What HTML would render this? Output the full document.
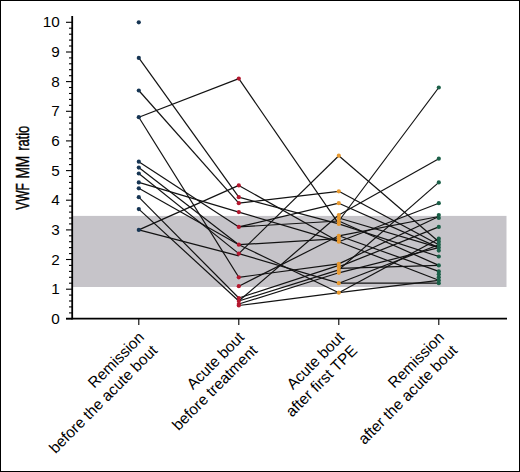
<!DOCTYPE html>
<html><head><meta charset="utf-8"><style>
html,body{margin:0;padding:0;background:#fff;}
body{width:520px;height:472px;overflow:hidden;}
svg{display:block;font-family:"Liberation Sans",sans-serif;}
</style></head><body>
<svg width="520" height="472" viewBox="0 0 520 472">
<rect x="0.5" y="0.5" width="519" height="471" fill="#fff" stroke="#000" stroke-width="1"/>
<rect x="73" y="215.9" width="433.5" height="71.1" fill="#c6c4c9"/>
<g stroke="#000" stroke-width="1.1"><line x1="66" y1="318.8" x2="72" y2="318.8"/><line x1="69" y1="312.9" x2="72" y2="312.9"/><line x1="69" y1="306.9" x2="72" y2="306.9"/><line x1="69" y1="301.0" x2="72" y2="301.0"/><line x1="69" y1="295.1" x2="72" y2="295.1"/><line x1="66" y1="289.2" x2="72" y2="289.2"/><line x1="69" y1="283.2" x2="72" y2="283.2"/><line x1="69" y1="277.3" x2="72" y2="277.3"/><line x1="69" y1="271.4" x2="72" y2="271.4"/><line x1="69" y1="265.4" x2="72" y2="265.4"/><line x1="66" y1="259.5" x2="72" y2="259.5"/><line x1="69" y1="253.6" x2="72" y2="253.6"/><line x1="69" y1="247.6" x2="72" y2="247.6"/><line x1="69" y1="241.7" x2="72" y2="241.7"/><line x1="69" y1="235.8" x2="72" y2="235.8"/><line x1="66" y1="229.9" x2="72" y2="229.9"/><line x1="69" y1="223.9" x2="72" y2="223.9"/><line x1="69" y1="218.0" x2="72" y2="218.0"/><line x1="69" y1="212.1" x2="72" y2="212.1"/><line x1="69" y1="206.1" x2="72" y2="206.1"/><line x1="66" y1="200.2" x2="72" y2="200.2"/><line x1="69" y1="194.3" x2="72" y2="194.3"/><line x1="69" y1="188.3" x2="72" y2="188.3"/><line x1="69" y1="182.4" x2="72" y2="182.4"/><line x1="69" y1="176.5" x2="72" y2="176.5"/><line x1="66" y1="170.6" x2="72" y2="170.6"/><line x1="69" y1="164.6" x2="72" y2="164.6"/><line x1="69" y1="158.7" x2="72" y2="158.7"/><line x1="69" y1="152.8" x2="72" y2="152.8"/><line x1="69" y1="146.8" x2="72" y2="146.8"/><line x1="66" y1="140.9" x2="72" y2="140.9"/><line x1="69" y1="135.0" x2="72" y2="135.0"/><line x1="69" y1="129.0" x2="72" y2="129.0"/><line x1="69" y1="123.1" x2="72" y2="123.1"/><line x1="69" y1="117.2" x2="72" y2="117.2"/><line x1="66" y1="111.3" x2="72" y2="111.3"/><line x1="69" y1="105.3" x2="72" y2="105.3"/><line x1="69" y1="99.4" x2="72" y2="99.4"/><line x1="69" y1="93.5" x2="72" y2="93.5"/><line x1="69" y1="87.5" x2="72" y2="87.5"/><line x1="66" y1="81.6" x2="72" y2="81.6"/><line x1="69" y1="75.7" x2="72" y2="75.7"/><line x1="69" y1="69.7" x2="72" y2="69.7"/><line x1="69" y1="63.8" x2="72" y2="63.8"/><line x1="69" y1="57.9" x2="72" y2="57.9"/><line x1="66" y1="52.0" x2="72" y2="52.0"/><line x1="69" y1="46.0" x2="72" y2="46.0"/><line x1="69" y1="40.1" x2="72" y2="40.1"/><line x1="69" y1="34.2" x2="72" y2="34.2"/><line x1="69" y1="28.2" x2="72" y2="28.2"/><line x1="66" y1="22.3" x2="72" y2="22.3"/><line x1="138.8" y1="319" x2="138.8" y2="325"/><line x1="238.8" y1="319" x2="238.8" y2="325"/><line x1="338.8" y1="319" x2="338.8" y2="325"/><line x1="438.8" y1="319" x2="438.8" y2="325"/></g>
<line x1="72.2" y1="16" x2="72.2" y2="319.5" stroke="#000" stroke-width="1.8"/>
<line x1="66" y1="318.6" x2="507" y2="318.6" stroke="#000" stroke-width="1.8"/>
<g font-size="15.3" fill="#000"><text x="59.7" y="323.9" text-anchor="end">0</text><text x="59.7" y="294.3" text-anchor="end">1</text><text x="59.7" y="264.6" text-anchor="end">2</text><text x="59.7" y="235.0" text-anchor="end">3</text><text x="59.7" y="205.3" text-anchor="end">4</text><text x="59.7" y="175.7" text-anchor="end">5</text><text x="59.7" y="146.0" text-anchor="end">6</text><text x="59.7" y="116.4" text-anchor="end">7</text><text x="59.7" y="86.7" text-anchor="end">8</text><text x="59.7" y="57.1" text-anchor="end">9</text><text x="59.7" y="27.4" text-anchor="end">10</text></g>
<g stroke="#121212" stroke-width="1.2" fill="none"><line x1="138.8" y1="57.9" x2="238.8" y2="197.2"/><line x1="138.8" y1="90.5" x2="238.8" y2="203.2"/><line x1="138.8" y1="117.2" x2="238.8" y2="78.6"/><line x1="138.8" y1="117.2" x2="238.8" y2="277.3"/><line x1="138.8" y1="161.7" x2="238.8" y2="226.9"/><line x1="138.8" y1="167.6" x2="238.8" y2="244.7"/><line x1="138.8" y1="173.5" x2="238.8" y2="253.6"/><line x1="138.8" y1="182.4" x2="238.8" y2="212.1"/><line x1="138.8" y1="188.3" x2="238.8" y2="244.7"/><line x1="138.8" y1="197.2" x2="238.8" y2="298.0"/><line x1="138.8" y1="209.1" x2="238.8" y2="301.0"/><line x1="138.8" y1="229.9" x2="238.8" y2="185.4"/><line x1="138.8" y1="229.9" x2="238.8" y2="255.9"/><line x1="238.8" y1="78.6" x2="338.8" y2="223.9"/><line x1="238.8" y1="185.4" x2="338.8" y2="241.7"/><line x1="238.8" y1="197.2" x2="338.8" y2="223.9"/><line x1="238.8" y1="203.2" x2="338.8" y2="191.3"/><line x1="238.8" y1="212.1" x2="338.8" y2="241.7"/><line x1="238.8" y1="226.9" x2="338.8" y2="203.2"/><line x1="238.8" y1="226.9" x2="338.8" y2="221.0"/><line x1="238.8" y1="244.7" x2="338.8" y2="238.7"/><line x1="238.8" y1="244.7" x2="338.8" y2="292.7"/><line x1="238.8" y1="253.6" x2="338.8" y2="155.7"/><line x1="238.8" y1="253.6" x2="338.8" y2="283.2"/><line x1="238.8" y1="277.3" x2="338.8" y2="263.9"/><line x1="238.8" y1="286.2" x2="338.8" y2="235.8"/><line x1="238.8" y1="301.0" x2="338.8" y2="215.0"/><line x1="238.8" y1="298.0" x2="338.8" y2="265.4"/><line x1="238.8" y1="301.0" x2="338.8" y2="269.9"/><line x1="238.8" y1="304.0" x2="338.8" y2="272.8"/><line x1="238.8" y1="305.5" x2="338.8" y2="292.7"/><line x1="338.8" y1="221.0" x2="438.8" y2="87.5"/><line x1="338.8" y1="215.0" x2="438.8" y2="158.7"/><line x1="338.8" y1="269.9" x2="438.8" y2="182.4"/><line x1="338.8" y1="241.7" x2="438.8" y2="203.2"/><line x1="338.8" y1="235.8" x2="438.8" y2="216.5"/><line x1="338.8" y1="263.9" x2="438.8" y2="216.5"/><line x1="338.8" y1="266.9" x2="438.8" y2="226.9"/><line x1="338.8" y1="155.7" x2="438.8" y2="241.7"/><line x1="338.8" y1="191.3" x2="438.8" y2="244.7"/><line x1="338.8" y1="203.2" x2="438.8" y2="247.6"/><line x1="338.8" y1="218.0" x2="438.8" y2="247.6"/><line x1="338.8" y1="272.8" x2="438.8" y2="247.6"/><line x1="338.8" y1="283.2" x2="438.8" y2="244.7"/><line x1="338.8" y1="292.7" x2="438.8" y2="238.7"/><line x1="338.8" y1="223.9" x2="438.8" y2="256.5"/><line x1="338.8" y1="221.0" x2="438.8" y2="265.4"/><line x1="338.8" y1="268.4" x2="438.8" y2="265.4"/><line x1="338.8" y1="283.2" x2="438.8" y2="283.2"/><line x1="338.8" y1="292.7" x2="438.8" y2="280.3"/><line x1="338.8" y1="235.8" x2="438.8" y2="271.4"/><line x1="338.8" y1="241.7" x2="438.8" y2="280.3"/></g>
<g><circle cx="138.8" cy="22.3" r="2.1" fill="#163553"/><circle cx="138.8" cy="57.9" r="2.1" fill="#163553"/><circle cx="138.8" cy="90.5" r="2.1" fill="#163553"/><circle cx="138.8" cy="117.2" r="2.1" fill="#163553"/><circle cx="138.8" cy="161.7" r="2.1" fill="#163553"/><circle cx="138.8" cy="167.6" r="2.1" fill="#163553"/><circle cx="138.8" cy="173.5" r="2.1" fill="#163553"/><circle cx="138.8" cy="182.4" r="2.1" fill="#163553"/><circle cx="138.8" cy="188.3" r="2.1" fill="#163553"/><circle cx="138.8" cy="197.2" r="2.1" fill="#163553"/><circle cx="138.8" cy="209.1" r="2.1" fill="#163553"/><circle cx="138.8" cy="229.9" r="2.1" fill="#163553"/><circle cx="238.8" cy="78.6" r="2.1" fill="#b3172e"/><circle cx="238.8" cy="185.4" r="2.1" fill="#b3172e"/><circle cx="238.8" cy="197.2" r="2.1" fill="#b3172e"/><circle cx="238.8" cy="203.2" r="2.1" fill="#b3172e"/><circle cx="238.8" cy="212.1" r="2.1" fill="#b3172e"/><circle cx="238.8" cy="226.9" r="2.1" fill="#b3172e"/><circle cx="238.8" cy="244.7" r="2.1" fill="#b3172e"/><circle cx="238.8" cy="253.6" r="2.1" fill="#b3172e"/><circle cx="238.8" cy="277.3" r="2.1" fill="#b3172e"/><circle cx="238.8" cy="286.2" r="2.1" fill="#b3172e"/><circle cx="238.8" cy="298.0" r="2.1" fill="#b3172e"/><circle cx="238.8" cy="301.0" r="2.1" fill="#b3172e"/><circle cx="238.8" cy="304.0" r="2.1" fill="#b3172e"/><circle cx="238.8" cy="305.5" r="2.1" fill="#b3172e"/><circle cx="338.8" cy="155.7" r="2.1" fill="#e8992f"/><circle cx="338.8" cy="191.3" r="2.1" fill="#e8992f"/><circle cx="338.8" cy="203.2" r="2.1" fill="#e8992f"/><circle cx="338.8" cy="215.0" r="2.1" fill="#e8992f"/><circle cx="338.8" cy="218.0" r="2.1" fill="#e8992f"/><circle cx="338.8" cy="221.0" r="2.1" fill="#e8992f"/><circle cx="338.8" cy="223.9" r="2.1" fill="#e8992f"/><circle cx="338.8" cy="235.8" r="2.1" fill="#e8992f"/><circle cx="338.8" cy="238.7" r="2.1" fill="#e8992f"/><circle cx="338.8" cy="241.7" r="2.1" fill="#e8992f"/><circle cx="338.8" cy="263.9" r="2.1" fill="#e8992f"/><circle cx="338.8" cy="266.9" r="2.1" fill="#e8992f"/><circle cx="338.8" cy="269.9" r="2.1" fill="#e8992f"/><circle cx="338.8" cy="272.8" r="2.1" fill="#e8992f"/><circle cx="338.8" cy="283.2" r="2.1" fill="#e8992f"/><circle cx="338.8" cy="292.7" r="2.1" fill="#e8992f"/><circle cx="438.8" cy="87.5" r="2.1" fill="#1b6048"/><circle cx="438.8" cy="158.7" r="2.1" fill="#1b6048"/><circle cx="438.8" cy="182.4" r="2.1" fill="#1b6048"/><circle cx="438.8" cy="203.2" r="2.1" fill="#1b6048"/><circle cx="438.8" cy="215.0" r="2.1" fill="#1b6048"/><circle cx="438.8" cy="218.0" r="2.1" fill="#1b6048"/><circle cx="438.8" cy="226.9" r="2.1" fill="#1b6048"/><circle cx="438.8" cy="238.7" r="2.1" fill="#1b6048"/><circle cx="438.8" cy="241.7" r="2.1" fill="#1b6048"/><circle cx="438.8" cy="244.7" r="2.1" fill="#1b6048"/><circle cx="438.8" cy="247.6" r="2.1" fill="#1b6048"/><circle cx="438.8" cy="250.6" r="2.1" fill="#1b6048"/><circle cx="438.8" cy="256.5" r="2.1" fill="#1b6048"/><circle cx="438.8" cy="265.4" r="2.1" fill="#1b6048"/><circle cx="438.8" cy="271.4" r="2.1" fill="#1b6048"/><circle cx="438.8" cy="274.3" r="2.1" fill="#1b6048"/><circle cx="438.8" cy="277.3" r="2.1" fill="#1b6048"/><circle cx="438.8" cy="280.3" r="2.1" fill="#1b6048"/><circle cx="438.8" cy="283.2" r="2.1" fill="#1b6048"/></g>
<g font-size="18" fill="#000" stroke="#000" stroke-width="0.4"><text transform="translate(29.4,209.8) rotate(-90) scale(0.665,1)">VWF</text><text transform="translate(29.4,178.6) rotate(-90) scale(0.765,1)">MM</text><text transform="translate(29.4,150.8) rotate(-90) scale(0.715,1)">ratio</text></g>
<g font-size="15.4" fill="#000"><text transform="translate(145.10000000000002,338.3) rotate(-45)" text-anchor="end"><tspan x="0" y="0">Remission</tspan><tspan x="0" y="18.6">before the acute bout</tspan></text><text transform="translate(245.10000000000002,338.3) rotate(-45)" text-anchor="end"><tspan x="0" y="0">Acute bout</tspan><tspan x="0" y="18.6">before treatment</tspan></text><text transform="translate(345.1,338.3) rotate(-45)" text-anchor="end"><tspan x="0" y="0">Acute bout</tspan><tspan x="0" y="18.6">after first TPE</tspan></text><text transform="translate(445.1,338.3) rotate(-45)" text-anchor="end"><tspan x="0" y="0">Remission</tspan><tspan x="0" y="18.6">after the acute bout</tspan></text></g>
</svg>
</body></html>
